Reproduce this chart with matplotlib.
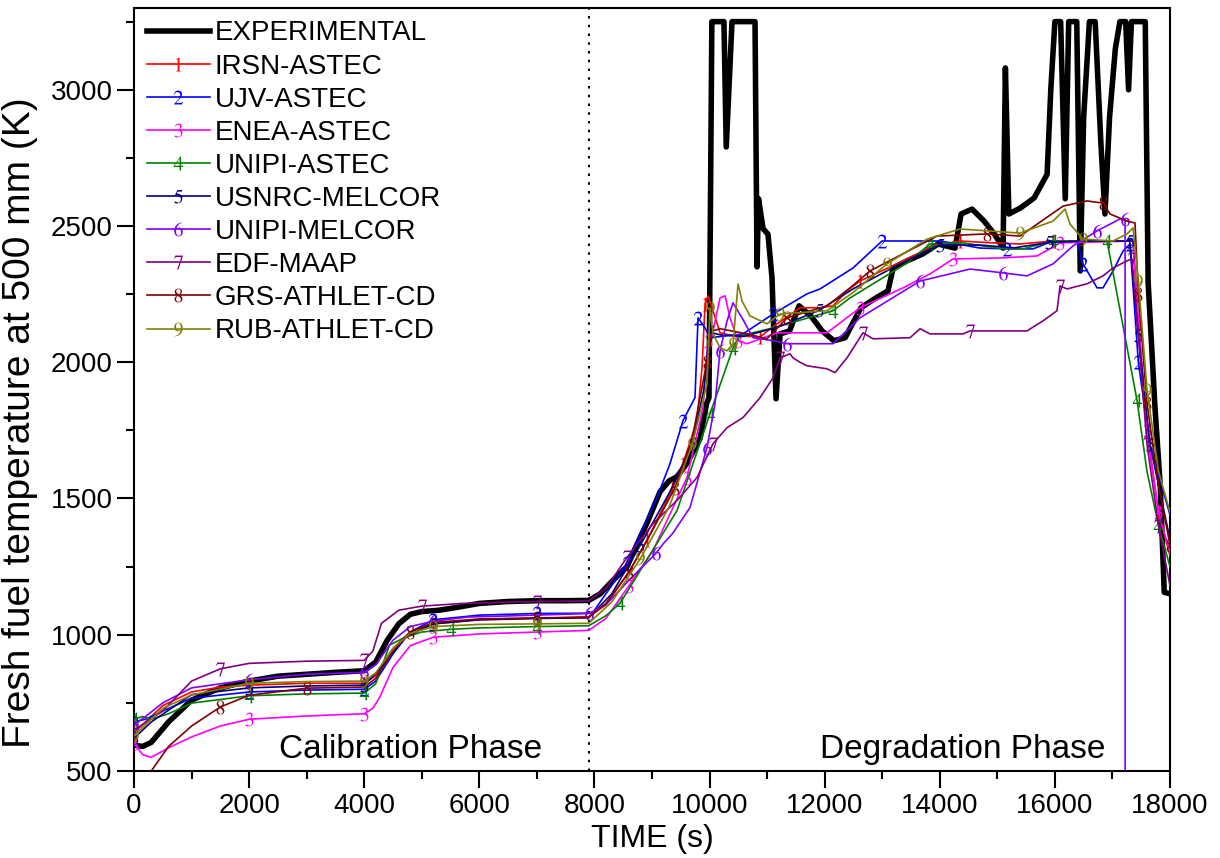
import matplotlib
matplotlib.use("Agg")
import matplotlib.pyplot as plt
from matplotlib.ticker import MultipleLocator

plt.rcParams['font.family'] = ['Liberation Sans', 'DejaVu Sans']
plt.rcParams['mathtext.fontset'] = 'stix'

# experimental data
exp_t = [0, 150, 300, 600, 1000, 1500, 2000, 2500, 3000, 3500, 4000, 4200, 4400, 4600, 4800,
         5000, 5300, 5600, 6000, 6500, 7000, 7500, 7900, 8100, 8300, 8565, 8800, 8910, 9140,
         9300, 9435, 9610, 9835, 9950, 9990, 10040, 10100, 10250, 10290, 10390, 10790, 10825,
         10850, 10930, 11015, 11085, 11155, 11225, 11390, 11555, 11760, 11955, 12160, 12355,
         12630, 12890, 13100, 13190, 13430, 13700, 13970, 14265, 14370, 14560, 14770, 14950,
         15100, 15140, 15200, 15400, 15640, 15865, 15930, 16000, 16100, 16180, 16240, 16380,
         16440, 16500, 16600, 16700, 16800, 16870, 16950, 17050, 17130, 17230, 17280, 17330,
         17570, 17620, 17740, 17830, 17900, 18000]
exp_v = [595, 590, 605, 680, 760, 805, 830, 848, 855, 862, 868, 900, 980, 1040, 1075,
         1085, 1090, 1100, 1115, 1122, 1125, 1125, 1126, 1150, 1195, 1250, 1360, 1408, 1525,
         1565, 1580, 1630, 1720, 1850, 1870, 3250, 3250, 3250, 2790, 3250, 3250, 2350,
         2600, 2490, 2470, 2310, 1866, 2104, 2115, 2207, 2170, 2115, 2079, 2090,
         2200, 2236, 2262, 2346, 2372, 2397, 2434, 2419, 2544, 2562, 2518, 2470,
         2419, 3080, 2544, 2566, 2603, 2690, 3005, 3250, 3250, 2600, 3250, 3250,
         2335, 2900, 3250, 3250, 2800, 2544, 2900, 3150, 3250, 3250, 3000, 3250,
         3250, 2295, 1830, 1548, 1156, 1150]

# 1 IRSN-ASTEC
irsn_t = [0, 200, 500, 1000, 1500, 2000, 3000, 4000, 4200, 4500, 4800, 5200, 6000, 7000, 7900,
          8200, 8600, 8913, 9313, 9539, 9782, 9869, 9922, 9973, 10060, 10182, 10408, 10877,
          11172, 11572, 11919, 12145, 12388, 12614, 13361, 13882, 14352, 14925, 15394, 15968,
          17358, 17450, 17600, 17800, 18000]
irsn_v = [640, 680, 740, 790, 808, 815, 822, 822, 850, 950, 1010, 1040, 1055, 1060, 1066,
          1110, 1230, 1346, 1518, 1628, 1786, 1980, 2214, 2244, 2189, 2108, 2097, 2093,
          2141, 2200, 2200, 2207, 2262, 2298, 2372, 2427, 2445, 2438, 2434, 2445,
          2445, 2150, 1750, 1450, 1290]

# 2 UJV-ASTEC
ujv_t = [0, 200, 500, 1000, 2000, 3000, 4000, 4200, 4500, 4800, 5200, 6000, 7000, 7900, 7975,
         8566, 9087, 9313, 9539, 9747, 9800, 9922, 10008, 10581, 11103, 11693, 11919, 12493,
         12997, 14004, 14700, 15169, 15620, 15968, 16385, 16489, 16732, 16836, 17010, 17184,
         17306, 17450, 17650, 18000]
ujv_v = [680, 690, 720, 767, 790, 797, 800, 830, 930, 1010, 1055, 1072, 1078, 1079, 1082,
         1262, 1504, 1628, 1786, 1870, 2163, 2126, 2090, 2104, 2177, 2251, 2269, 2346,
         2445, 2445, 2419, 2416, 2416, 2445, 2445, 2361, 2273, 2273, 2335, 2408,
         2434, 2000, 1700, 1440]

# 3 ENEA-ASTEC
enea_t = [0, 150, 300, 600, 1000, 1500, 2000, 3000, 4000, 4150, 4270, 4500, 4800, 5200, 6000,
          7000, 7900, 8200, 8600, 9018, 9608, 9886, 9973, 10060, 10182, 10269, 10356, 10495,
          10651, 11172, 12041, 12614, 13361, 13830, 14230, 15099, 15690, 16090, 17358, 17450,
          17600, 17800, 18000]
enea_v = [600, 560, 550, 585, 625, 665, 690, 702, 710, 730, 771, 880, 960, 991, 1003,
          1010, 1016, 1060, 1180, 1309, 1577, 1833, 2079, 2115, 2236, 2244, 2163, 2079,
          2068, 2108, 2108, 2200, 2273, 2324, 2379, 2383, 2390, 2438, 2445, 2150,
          1750, 1450, 1300]

# 4 UNIPI-ASTEC
unipia_t = [0, 150, 300, 600, 1000, 2000, 3000, 4000, 4200, 4440, 4700, 5000, 5500, 6000, 7000,
            7900, 8200, 8444, 9435, 10008, 10408, 10530, 11103, 12145, 12440, 13431, 13830,
            14404, 14995, 15446, 15968, 16906, 17427, 17600, 17800, 18000]
unipia_v = [690, 700, 690, 710, 749, 776, 783, 786, 820, 962, 990, 1010, 1020, 1025, 1030,
            1033, 1070, 1115, 1456, 1811, 2053, 2097, 2126, 2189, 2236, 2364, 2434,
            2438, 2419, 2416, 2445, 2445, 1860, 1600, 1400, 1250]

# 5 USNRC-MELCOR
usnrc_t = [0, 300, 1000, 2000, 3000, 4000, 4300, 4700, 5200, 6000, 7000, 7900, 8300, 8800,
           9300, 9700, 9900, 10000, 10200, 10600, 11200, 11900, 12500, 13300, 14000, 14700,
           15300, 15900, 16500, 17300, 17450, 17650, 18000]
usnrc_v = [620, 680, 780, 805, 812, 815, 880, 990, 1040, 1055, 1060, 1062, 1150, 1330,
           1520, 1700, 1900, 2110, 2100, 2095, 2130, 2190, 2270, 2360, 2430, 2430,
           2420, 2440, 2445, 2445, 2100, 1700, 1350]

# 6 UNIPI-MELCOR
unipim_t = [0, 200, 500, 1000, 2000, 3000, 4000, 4200, 4500, 4800, 5200, 5800, 7000, 7900,
            8200, 8600, 9070, 9200, 9360, 9660, 9956, 10095, 10182, 10304, 10408, 10564,
            10755, 11103, 11346, 12145, 12614, 13657, 14526, 15099, 15516, 15968, 16315,
            16732, 17132, 17220, 17221]
unipim_v = [670, 700, 750, 805, 835, 855, 862, 890, 980, 1030, 1050, 1065, 1072, 1078,
            1110, 1200, 1299, 1335, 1372, 1467, 1687, 1848, 2042, 2152, 2218, 2163,
            2090, 2079, 2068, 2068, 2163, 2298, 2342, 2328, 2317, 2361, 2427,
            2482, 2526, 2526, 0]

# 7 EDF-MAAP
edf_t = [0, 500, 1000, 1500, 2000, 3000, 4000, 4150, 4300, 4600, 5000, 5700, 7000, 7900,
         8200, 8566, 9018, 9435, 9782, 10060, 10304, 10581, 10877, 11103, 11224, 11398,
         11450, 11572, 11693, 12041, 12180, 12388, 12666, 12840, 13483, 13657, 13830, 14404,
         14526, 15516, 15794, 16037, 16090, 16211, 16558, 16836, 17010, 17253, 17340, 17450,
         17600, 17800, 18000]
edf_v = [650, 720, 830, 875, 895, 903, 906, 940, 1042, 1090, 1105, 1115, 1122, 1124,
         1170, 1284, 1408, 1493, 1577, 1701, 1760, 1797, 1870, 1943, 2016, 2031,
         2016, 2000, 1987, 1976, 1962, 2016, 2108, 2086, 2090, 2123, 2104, 2104,
         2115, 2115, 2152, 2189, 2280, 2269, 2288, 2317, 2346, 2372, 2379, 2100,
         1700, 1400, 1180]

# 8 GRS-ATHLET-CD
grs_t = [0, 300, 600, 1000, 1500, 2000, 3000, 4000, 4200, 4500, 4800, 5200, 6000, 7000, 7900,
         8200, 8600, 9000, 9400, 9700, 9950, 10050, 10182, 10651, 10998, 11346, 12041, 12440,
         12788, 13952, 14821, 15394, 16141, 16558, 16836, 16958, 17253, 17392, 17450, 17600,
         17800, 18000]
grs_v = [430, 500, 590, 665, 735, 778, 804, 808, 840, 940, 1010, 1045, 1058, 1062, 1064,
         1115, 1230, 1380, 1540, 1720, 2000, 2115, 2123, 2104, 2086, 2163, 2207, 2273,
         2335, 2463, 2471, 2463, 2573, 2592, 2584, 2544, 2518, 2511, 2250, 1850,
         1550, 1330]

# 9 RUB-ATHLET-CD
rub_t = [0, 200, 500, 1000, 2000, 3000, 4000, 4200, 4500, 4800, 5200, 6000, 7000, 7900,
         8300, 8800, 9300, 9700, 9956, 10008, 10060, 10182, 10304, 10408, 10495, 10564,
         10703, 10998, 11224, 12041, 12493, 13083, 13778, 14352, 15394, 15968, 16176, 16263,
         16489, 17010, 17253, 17358, 17450, 17600, 17800, 18000]
rub_v = [630, 670, 730, 779, 822, 828, 830, 860, 950, 1005, 1030, 1038, 1040, 1042,
         1120, 1280, 1470, 1700, 1921, 2200, 2104, 2053, 2042, 2068, 2287, 2225,
         2170, 2141, 2177, 2189, 2256, 2361, 2452, 2489, 2474, 2518, 2562, 2507,
         2452, 2445, 2471, 2493, 2300, 1900, 1600, 1450]

models = [
    ("IRSN-ASTEC", irsn_t, irsn_v, "#ff0000"),
    ("UJV-ASTEC", ujv_t, ujv_v, "#0000ff"),
    ("ENEA-ASTEC", enea_t, enea_v, "#ff00ff"),
    ("UNIPI-ASTEC", unipia_t, unipia_v, "#008000"),
    ("USNRC-MELCOR", usnrc_t, usnrc_v, "#000080"),
    ("UNIPI-MELCOR", unipim_t, unipim_v, "#8000ff"),
    ("EDF-MAAP", edf_t, edf_v, "#800080"),
    ("GRS-ATHLET-CD", grs_t, grs_v, "#800000"),
    ("RUB-ATHLET-CD", rub_t, rub_v, "#808000"),
]

fig = plt.figure(figsize=(12.2, 8.58), dpi=100)
ax = fig.add_axes([134 / 1220, 87 / 858, 1036 / 1220, 763 / 858])

ax.plot(exp_t, exp_v, color="black", lw=4, label="EXPERIMENTAL", zorder=3)
for i, (name, t, v, c) in enumerate(models):
    ax.plot(t, v, color=c, lw=1.2, marker="$%d$" % (i + 1), markersize=10,
            markeredgewidth=0, markevery=0.09, label=name, zorder=4)

ax.axvline(7900, color="black", lw=1.5, ls=(0, (1.2, 3)), zorder=2)

ax.text(4800, 580, "Calibration Phase", ha="center", va="center", fontsize=24)
ax.text(14390, 580, "Degradation Phase", ha="center", va="center", fontsize=24)

ax.set_xlim(0, 18000)
ax.set_ylim(500, 3300)
ax.xaxis.set_major_locator(MultipleLocator(2000))
ax.xaxis.set_minor_locator(MultipleLocator(1000))
ax.yaxis.set_major_locator(MultipleLocator(500))
ax.yaxis.set_minor_locator(MultipleLocator(250))
ax.tick_params(which="both", direction="out", top=False, right=False, width=1.5,
               labelsize=20)
ax.tick_params(which="major", length=12)
ax.tick_params(which="minor", length=6)
for s in ax.spines.values():
    s.set_linewidth(1.5)

ax.set_xlabel("TIME (s)", fontsize=23, labelpad=4)
ax.set_ylabel("Fresh fuel temperature at 500 mm (K)", fontsize=28)
ax.yaxis.set_label_coords(-0.093, 0.457)

ax.legend(loc="upper left", bbox_to_anchor=(0.0, 1.0), frameon=False, fontsize=20,
          numpoints=1, handlelength=2.3, handletextpad=0.15, labelspacing=0.255,
          borderaxespad=0.3, borderpad=0.15)

fig.savefig("out.png", dpi=100)
